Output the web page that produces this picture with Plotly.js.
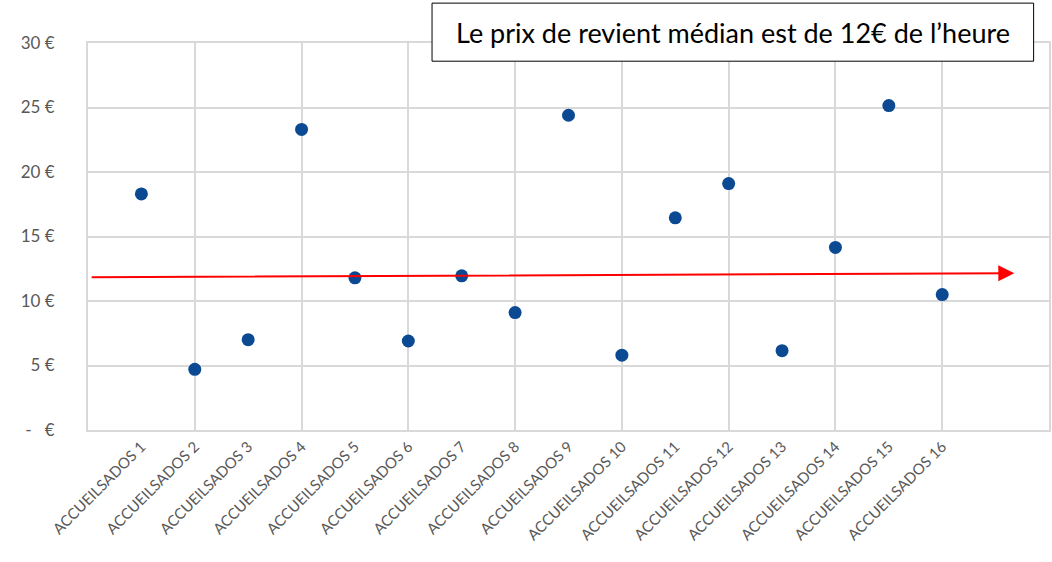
<!DOCTYPE html>
<html>
<head>
<meta charset="utf-8">
<script src="https://cdn.plot.ly/plotly-3.0.1.min.js"></script>
<style>
  html, body { margin: 0; padding: 0; background: #fff; }
  #chart { width: 1052px; height: 562px; }
</style>
</head>
<body>
<div id="chart"></div>
<script>
// categories and cost per hour (€)
const categories = ['ACCUEILSADOS 1', 'ACCUEILSADOS 2', 'ACCUEILSADOS 3', 'ACCUEILSADOS 4',
  'ACCUEILSADOS 5', 'ACCUEILSADOS 6', 'ACCUEILSADOS 7', 'ACCUEILSADOS 8',
  'ACCUEILSADOS 9', 'ACCUEILSADOS 10', 'ACCUEILSADOS 11', 'ACCUEILSADOS 12',
  'ACCUEILSADOS 13', 'ACCUEILSADOS 14', 'ACCUEILSADOS 15', 'ACCUEILSADOS 16']
const prix = [18.3, 4.7, 7.0, 23.3, 11.8, 6.9, 11.95, 9.1, 24.4, 5.8, 16.45, 19.1, 6.15, 14.15, 25.15, 10.5]
const yTicks = [0, 5, 10, 15, 20, 25, 30]
const yTickText = ['-   €', '5 €', '10 €', '15 €', '20 €', '25 €', '30 €']
// median trend arrow (start/end in data units)
const arrowStart = [-0.96, 11.85]
const arrowEnd = [16.35, 12.15]
const note = 'Le prix de revient médian est de 12€ de l’heure'

let xIdx = categories.map((c, i) => i)
let gridX = []
for (let g = -1; g <= 17; g += 2) gridX.push(g)

let trace = {
  x: xIdx,
  y: prix,
  type: 'scatter',
  mode: 'markers',
  marker: { color: '#0b4a93', size: 13 },
  hoverinfo: 'y'
}
// empty trace so the grid axis gets drawn
let gridTrace = { x: [], y: [], xaxis: 'x2', yaxis: 'y', type: 'scatter', mode: 'markers', showlegend: false }

let layout = {
  width: 1052,
  height: 562,
  margin: { l: 88, r: 3, t: 43, b: 132 },
  paper_bgcolor: '#fff',
  plot_bgcolor: '#fff',
  font: { family: 'Lato, "Open Sans", sans-serif', color: '#595959' },
  showlegend: false,
  xaxis: {
    range: [-1, 17],
    tickvals: xIdx,
    ticktext: categories,
    tickangle: -45,
    tickfont: { size: 15, color: '#595959' },
    showgrid: false,
    zeroline: false,
    ticks: '',
    showline: true, mirror: true, linecolor: '#d9d9d9', linewidth: 2,
    fixedrange: true
  },
  xaxis2: {
    overlaying: 'x',
    side: 'bottom',
    range: [-1, 17],
    tickvals: gridX,
    showticklabels: false,
    ticks: '',
    showgrid: true,
    gridcolor: '#d9d9d9',
    gridwidth: 2,
    zeroline: false,
    fixedrange: true
  },
  yaxis: {
    range: [0, 30],
    tickvals: yTicks,
    ticktext: yTickText,
    tickfont: { size: 17, color: '#595959' },
    ticklabelstandoff: 28,
    gridcolor: '#d9d9d9',
    gridwidth: 2,
    zeroline: false,
    showline: true, mirror: true, linecolor: '#d9d9d9', linewidth: 2,
    fixedrange: true
  },
  shapes: [{
    type: 'rect', xref: 'paper', yref: 'paper',
    x0: 0.358, x1: 0.984, y0: 0.953, y1: 1.103,
    line: { color: '#000', width: 1 },
    fillcolor: '#fff',
    layer: 'above'
  }],
  annotations: [{
    x: arrowEnd[0], y: arrowEnd[1], xref: 'x', yref: 'y',
    ax: arrowStart[0], ay: arrowStart[1], axref: 'x', ayref: 'y',
    showarrow: true, arrowhead: 2, arrowsize: 1.6, arrowwidth: 2,
    arrowcolor: '#ff0000', text: ''
  }, {
    x: 0.671, y: 1.028, xref: 'paper', yref: 'paper',
    text: note, showarrow: false,
    font: { size: 27, color: '#000', family: 'Lato, "Open Sans", sans-serif' },
    xanchor: 'center', yanchor: 'middle'
  }]
}

Plotly.newPlot('chart', [trace, gridTrace], layout, { displayModeBar: false, staticPlot: true })
</script>
</body>
</html>
